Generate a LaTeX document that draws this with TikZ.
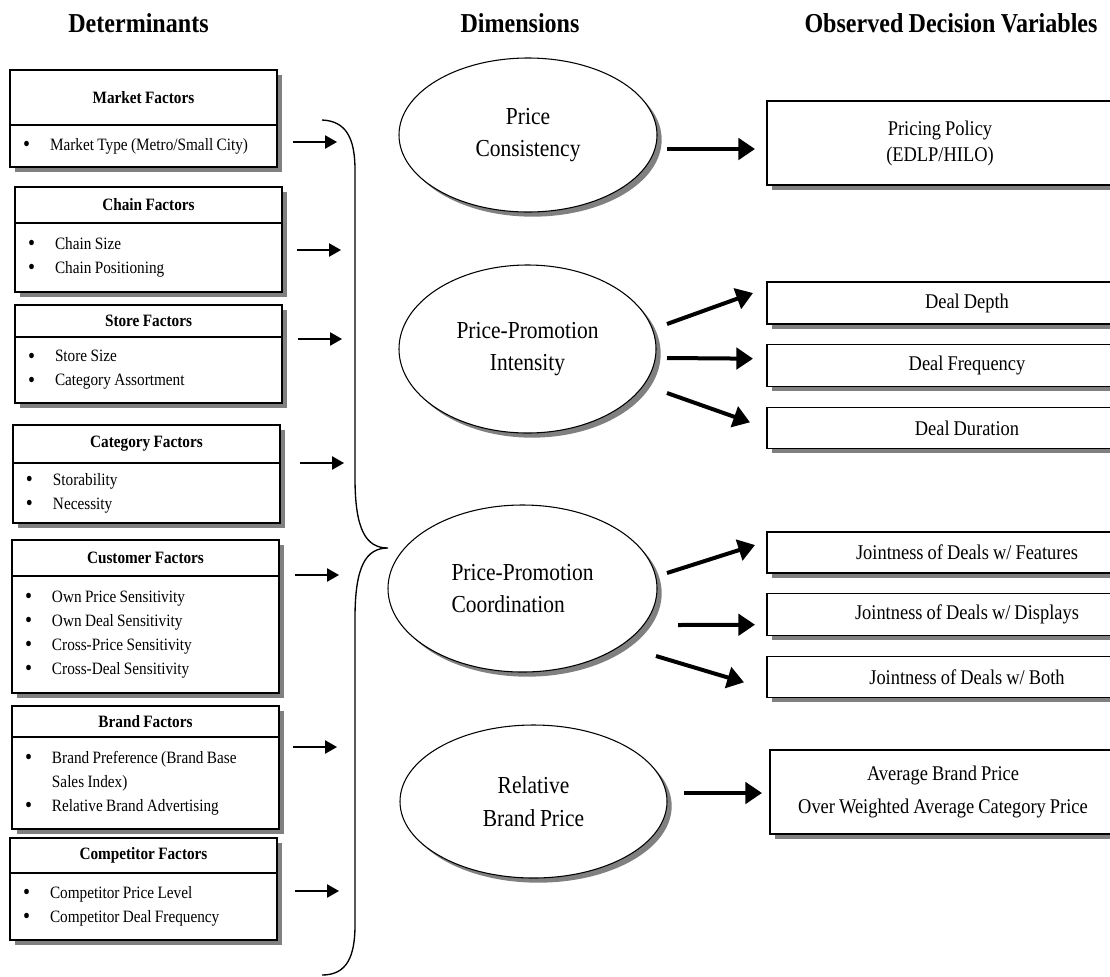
\documentclass[tikz,border=0pt]{standalone}
\usepackage{fontspec}
\setmainfont{Liberation Serif}[FakeStretch=0.88,WordSpace=0.88]
\usetikzlibrary{positioning,shapes.geometric,shadows,arrows.meta}
\newcommand\fitem[1]{\makebox[20.25pt][l]{\raisebox{-0.9pt}{\fontsize{17}{17}\selectfont\textbullet}}#1}
\tikzset{
  boxshadow/.style={drop shadow={shadow xshift=3.5pt,shadow yshift=-3.5pt,fill=black!50,opacity=1}},
  facttitle/.style={draw,fill=white,boxshadow,line width=0.9pt,minimum width=200.25pt,inner sep=0pt,outer sep=0pt,anchor=north,font=\bfseries\fontsize{13}{15}\selectfont},
  factbody/.style={draw,fill=white,boxshadow,line width=0.9pt,text width=180.75pt,inner xsep=9.75pt,inner ysep=0pt,outer sep=0pt,align=left,font=\fontsize{13}{18}\selectfont,
    execute at begin node={\spaceskip=0pt\xspaceskip=0pt\relax}},
  dimell/.style={ellipse,draw,fill=white,boxshadow,line width=0.8pt,inner sep=0pt,outer sep=0pt,align=center,font=\fontsize{18.3}{24.4}\selectfont},
  varbox/.style={draw,fill=white,boxshadow,line width=0.9pt,inner sep=0pt,outer sep=0pt,align=center,font=\fontsize{15.7}{19.5}\selectfont},
  hdr/.style={anchor=base,inner sep=0pt,font=\bfseries\fontsize{20.5}{24}\selectfont},
  bigarr/.style={line width=3pt,-{Triangle[length=12.5pt,width=16pt]}},
  thinarr/.style={line width=1.1pt,-{Triangle[length=9pt,width=10pt]}}
}
\begin{document}
\begin{tikzpicture}[x=0.75pt,y=-0.75pt]
\clip (0,0) rectangle (1110,976);

\node[hdr] (hdet) at (138.5,32) {Determinants};
\node[hdr] (hdim) at (520,32) {Dimensions};
\node[hdr] (hobs) at (951,32) {Observed Decision Variables};

\node[facttitle,minimum height=41.25pt] (mkt) at (143.5,70) {Market Factors};
\node[factbody,minimum height=31.5pt,below=0pt of mkt] (mktb) {\fitem{Market Type (Metro/Small City)}};
\node[facttitle,minimum height=27pt] (chn) at (148.5,187) {Chain Factors};
\node[factbody,minimum height=51.75pt,below=0pt of chn] (chnb) {\fitem{Chain Size}\\ \fitem{Chain Positioning}};
\node[facttitle,minimum height=24pt] (sto) at (148.5,305) {Store Factors};
\node[factbody,minimum height=49.5pt,below=0pt of sto] (stob) {\fitem{Store Size}\\ \fitem{Category Assortment}};
\node[facttitle,minimum height=28.5pt] (cat) at (146.5,425) {Category Factors};
\node[factbody,minimum height=45pt,below=0pt of cat] (catb) {\fitem{Storability}\\ \fitem{Necessity}};
\node[facttitle,minimum height=27pt] (cus) at (145.5,540) {Customer Factors};
\node[factbody,minimum height=87.75pt,below=0pt of cus] (cusb) {\fitem{Own Price Sensitivity}\\ \fitem{Own Deal Sensitivity}\\ \fitem{Cross-Price Sensitivity}\\ \fitem{Cross-Deal Sensitivity}};
\node[facttitle,minimum height=23.25pt] (brd) at (145.5,706) {Brand Factors};
\node[factbody,minimum height=69pt,below=0pt of brd] (brdb) {\fitem{Brand Preference (Brand Base}\\ \hspace*{20.25pt}Sales Index)\\ \fitem{Relative Brand Advertising}};
\node[facttitle,minimum height=26.25pt] (cmp) at (143.5,838) {Competitor Factors};
\node[factbody,minimum height=50.25pt,below=0pt of cmp] (cmpb) {\fitem{Competitor Price Level}\\ \fitem{Competitor Deal Frequency}};

\foreach \xa/\ya in {293/142,297/250,298/339,300/463,295/575,293/747,295/891}
  \draw[thinarr] (\xa,\ya) -- ++(44,0);

\draw[line width=1pt] (322,120) .. controls (346,121) and (355,138) .. (355,170) -- (355,478)
  .. controls (355,530) and (366,548) .. (388,548) .. controls (366,548) and (355,566) .. (355,618)
  -- (355,925) .. controls (355,958) and (346,975) .. (322,975);

\node[dimell,minimum width=193.5pt,minimum height=115.5pt] (e1) at (528,135) {Price\\Consistency};
\node[dimell,minimum width=192.75pt,minimum height=126pt] (e2) at (527.5,349) {Price-Promotion\\Intensity};
\node[dimell,minimum width=201.75pt,minimum height=125.25pt,align=left] (e3) at (522.5,588.5) {Price-Promotion\\Coordination};
\node[dimell,minimum width=200.25pt,minimum height=114.75pt] (e4) at (533.5,801.5) {Relative\\Brand Price};

\node[varbox,minimum width=259.5pt,minimum height=63pt] (r1) at (940,143) {Pricing Policy\\(EDLP/HILO)};
\node[varbox,minimum width=300pt,minimum height=31.5pt] (r2) at (967,303) {Deal Depth};
\node[varbox,minimum width=300pt,minimum height=31.5pt,below=15.5pt of r2] (r3) {Deal Frequency};
\node[varbox,minimum width=300pt,minimum height=30.75pt,below=15.5pt of r3] (r4) {Deal Duration};
\node[varbox,minimum width=300pt,minimum height=30.75pt] (r5) at (967,552.5) {Jointness of Deals w/ Features};
\node[varbox,minimum width=300pt,minimum height=31.5pt,below=15.5pt of r5] (r6) {Jointness of Deals w/ Displays};
\node[varbox,minimum width=300pt,minimum height=30.75pt,below=15.5pt of r6] (r7) {Jointness of Deals w/ Both};
\node[varbox,minimum width=259.5pt,minimum height=63pt,font=\fontsize{15.7}{24.75}\selectfont] (r8) at (943,792) {Average Brand Price\\Over Weighted Average Category Price};

\draw[bigarr] ([shift={(10,14)}]e1.east) -- ([shift={(-12,6)}]r1.west);
\draw[bigarr] ([shift={(11,-25)}]e2.east) -- ([shift={(-14,-10)}]r2.west);
\draw[bigarr] ([shift={(11,9)}]e2.east) -- ([shift={(-14,-7)}]r3.west);
\draw[bigarr] ([shift={(11,44)}]e2.east) -- ([shift={(-17,-5.5)}]r4.west);
\draw[bigarr] ([shift={(10,-15.5)}]e3.east) -- ([shift={(-12,-7.5)}]r5.west);
\draw[bigarr] ([shift={(21,36.5)}]e3.east) -- ([shift={(-12,10)}]r6.west);
\draw[bigarr] ([shift={(-1,67.5)}]e3.east) -- ([shift={(-23,5.5)}]r7.west);
\draw[bigarr] ([shift={(17,-8.5)}]e4.east) -- ([shift={(-8,1)}]r8.west);
\end{tikzpicture}
\end{document}
